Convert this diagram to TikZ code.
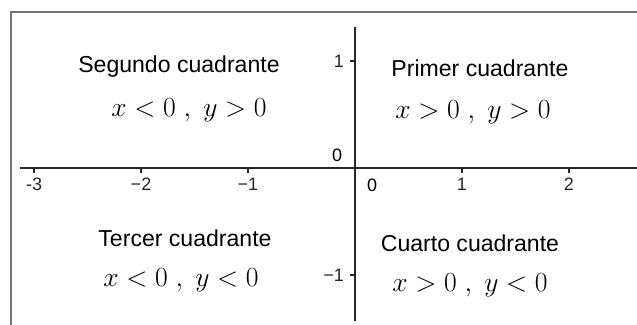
\documentclass[tikz,border=0pt]{standalone}
\usepackage{fontspec}
\setmainfont{Liberation Sans}
\usetikzlibrary{positioning, calc}

\begin{document}
\begin{tikzpicture}[
        x=80.25pt, y=80.25pt,
        cuadrante/.style={
            inner sep=0pt,
            font=\fontsize{17.3}{20}\selectfont
        },
        condicion/.style={
            inner sep=0pt,
            font=\fontsize{22}{26}\selectfont
        },
        marca/.style={
            inner sep=0pt,
            font=\fontsize{13.5}{16}\selectfont
        },
        eje/.style={line width=1pt, black!85},
        marco/.style={line width=1.1pt, black!55}
    ]
    \useasboundingbox (-3.318,-1.467) rectangle (2.636,1.570);
    \draw[marco] (-3.215,-1.6) -- (-3.215,1.458) -- (2.8,1.458);

    % ejes
    \coordinate (origen) at (0,0);
    \coordinate (xizq) at (-3.131,0);
    \coordinate (xder) at (2.7,0);
    \coordinate (yarr) at (0,1.318);
    \coordinate (yaba) at (0,-1.43);
    \draw[eje] (xizq) -- (xder);
    \draw[eje] (yaba) -- (yarr);

    \foreach \i/\txt/\nom in {-3/-3/xa, -2/−2/xb, -1/−1/xc, 1/1/xd, 2/2/xe} {
        \draw[eje] (\i,0) -- (\i,-0.047) node[marca, below=3pt] (\nom) {\txt};
    }
    \foreach \j/\txt/\nom in {1/1/ya, -1/−1/yb} {
        \draw[eje] (0,\j) -- (-0.047,\j) node[marca, left=4pt] (\nom) {\txt};
    }
    \node[marca] (cero) at (-0.168,0.12) {0};
    \node[marca] (cerox) at (0.16,-0.165) {0};

    % cuadrantes
    \node[cuadrante] (segundo) at (-1.645,0.944) {Segundo cuadrante};
    \node[condicion] (condsegundo) at (-1.551,0.54) {$x<0\;,\;y>0$};
    \node[cuadrante] (primero) at (1.168,0.935) {Primer cuadrante};
    \node[condicion] (condprimero) at (1.103,0.52) {$x>0\;,\;y>0$};
    \node[cuadrante] (tercero) at (-1.589,-0.654) {Tercer cuadrante};
    \node[condicion] (condtercero) at (-1.626,-1.05) {$x<0\;,\;y<0$};
    \node[cuadrante] (cuarto) at (1.075,-0.701) {Cuarto cuadrante};
    \node[condicion] (condcuarto) at (1.075,-1.095) {$x>0\;,\;y<0$};
\end{tikzpicture}
\end{document}
